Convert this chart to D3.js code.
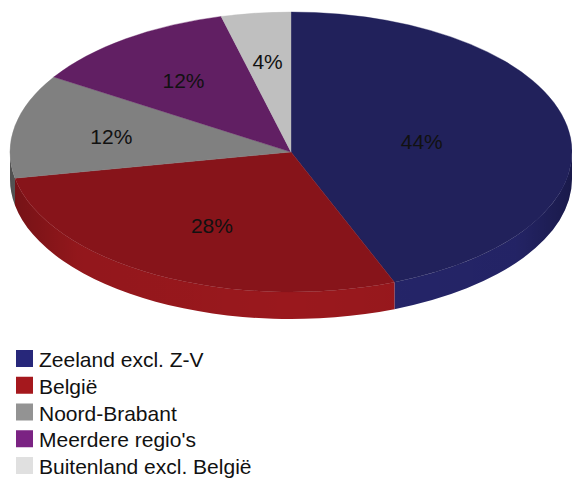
<!DOCTYPE html>
<html>
<head>
<meta charset="utf-8">
<script src="https://cdn.jsdelivr.net/npm/d3@7"></script>
<style>
  body { margin: 0; background: #fff; }
  text { font-family: "Liberation Sans", Arial, sans-serif; fill: #111; }
</style>
</head>
<body>
<svg id="chart" width="572" height="482"></svg>
<script>
// data
const categories = ["Zeeland excl. Z-V", "België", "Noord-Brabant", "Meerdere regio's", "Buitenland excl. België"];
const shares = [44, 28, 12, 12, 4];
const topColors = ["#21215b", "#87141a", "#808080", "#611f63", "#bfbfbf"];
const sideColors = ["#25256a", "#9a181d", "#6c6c6c", "#6e2470", "#a8a8a8"];
const legendColors = ["#27277a", "#a5181d", "#939393", "#7b2383", "#e0e0e0"];

const svg = d3.select("#chart");

// pie geometry
const cx = 291, cy = 152, rx = 281, ry = 140, depth = 27;

const pie = d3.pie().sort(null).value(d => d);
const arcs = pie(shares);

// point on the top ellipse for a d3 angle (0 = 12 o'clock, clockwise)
function pt(a, dy) {
  return [cx + rx * Math.sin(a), cy - ry * Math.cos(a) + (dy || 0)];
}

// side wall: only the front half (angles between pi/2 and 3pi/2) is seen
function sidePath(a0, a1) {
  const s = Math.max(a0, Math.PI / 2), e = Math.min(a1, 3 * Math.PI / 2);
  if (e <= s) return null;
  const p0 = pt(s), p1 = pt(e), q1 = pt(e, depth), q0 = pt(s, depth);
  return "M" + p0 + " A" + rx + "," + ry + " 0 0 1 " + p1 +
    " L" + q1 + " A" + rx + "," + ry + " 0 0 0 " + q0 + " Z";
}

const defs = svg.append("defs");
const shade = defs.append("linearGradient").attr("id", "sideShade")
  .attr("gradientUnits", "userSpaceOnUse")
  .attr("x1", cx - rx).attr("x2", cx + rx).attr("y1", 0).attr("y2", 0);
shade.append("stop").attr("offset", "0").attr("stop-color", "#000").attr("stop-opacity", 0.25);
shade.append("stop").attr("offset", "0.12").attr("stop-color", "#000").attr("stop-opacity", 0.05);
shade.append("stop").attr("offset", "0.5").attr("stop-color", "#000").attr("stop-opacity", 0);
shade.append("stop").attr("offset", "0.9").attr("stop-color", "#000").attr("stop-opacity", 0.05);
shade.append("stop").attr("offset", "1").attr("stop-color", "#000").attr("stop-opacity", 0.3);

const sides = svg.append("g").attr("class", "sides");
arcs.forEach((d, i) => {
  const p = sidePath(d.startAngle, d.endAngle);
  if (!p) return;
  sides.append("path").attr("d", p).attr("fill", sideColors[i]);
  sides.append("path").attr("d", p).attr("fill", "url(#sideShade)");
});

// top surface: circular arcs squashed into the ellipse
const arc = d3.arc().innerRadius(0).outerRadius(rx);
svg.append("g")
  .attr("transform", `translate(${cx},${cy}) scale(1,${ry / rx})`)
  .selectAll("path")
  .data(arcs)
  .enter()
  .append("path")
  .attr("d", arc)
  .attr("fill", (d, i) => topColors[i])
  .attr("stroke", (d, i) => topColors[i])
  .attr("stroke-width", 0.5);

// percentage labels at the sector centroid
const total = d3.sum(shares);
svg.append("g").selectAll("text")
  .data(arcs)
  .enter()
  .append("text")
  .attr("x", d => {
    const h = (d.endAngle - d.startAngle) / 2, m = d.startAngle + h;
    return cx + rx * (2 / 3) * Math.sin(h) / h * Math.sin(m);
  })
  .attr("y", d => {
    const h = (d.endAngle - d.startAngle) / 2, m = d.startAngle + h;
    return cy - ry * (2 / 3) * Math.sin(h) / h * Math.cos(m);
  })
  .attr("dy", "0.45em")
  .attr("text-anchor", "middle")
  .style("font-size", "21px")
  .text(d => Math.round(d.value / total * 100) + "%");

// legend
const legendY = d3.scaleBand().domain(categories).range([350, 350 + 26.75 * categories.length]);
const legend = svg.append("g").selectAll("g")
  .data(categories)
  .enter()
  .append("g")
  .attr("transform", d => `translate(16,${legendY(d)})`);

legend.append("rect")
  .attr("width", 17).attr("height", 17)
  .attr("fill", (d, i) => legendColors[i]);

legend.append("text")
  .attr("x", 23).attr("y", 17)
  .style("font-size", "21px")
  .text(d => d);
</script>
</body>
</html>
